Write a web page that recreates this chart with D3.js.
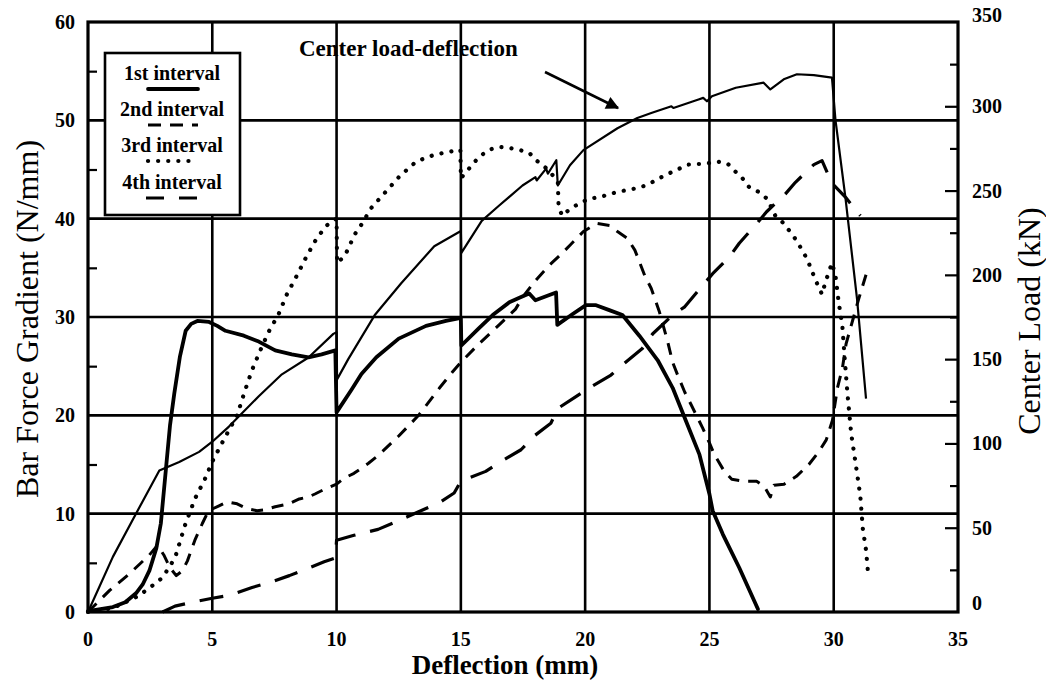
<!DOCTYPE html>
<html><head><meta charset="utf-8">
<script src="https://cdn.jsdelivr.net/npm/d3@7"></script>
<style>body{margin:0;background:#fff;} svg{display:block;}</style>
</head><body>
<svg id="c" width="1046" height="688"></svg>
<script>
// ---------- DATA ----------
const xTicks = [0, 5, 10, 15, 20, 25, 30, 35];
const yLeftTicks = [0, 10, 20, 30, 40, 50, 60];
const yRightTicks = [0, 50, 100, 150, 200, 250, 300, 350];
const legendLabels = ["1st interval", "2nd interval", "3rd interval", "4th interval"];

// Center load (kN, right axis) vs deflection (mm)
const centerLoad = [[0,0],[1.0,32.7],[1.93,58.3],[2.87,84],[3.67,89],[4.47,95],[5.0,101],[5.67,110],[6.87,128],[7.8,141],[8.87,151],[9.87,165],[10.0,166],[10.02,138],[10.47,150],[11.53,176],[12.6,195],[13.93,217],[15.0,226],[15.02,213],[15.84,232],[16.53,241],[17.48,253],[18.0,258],[18.05,256],[18.43,263],[18.5,260],[18.84,268],[18.9,253],[19.39,265],[19.93,274],[21.3,287],[22.1,293],[22.66,296],[23.47,300],[23.55,299],[24.56,304],[24.75,305],[24.9,303],[25.1,306],[26.06,311],[27.18,314],[27.45,310],[27.99,316],[28.52,319],[29.2,318.5],[29.93,317],[30.07,292],[30.47,246],[30.94,185.5],[31.3,126.6]];

// Bar force gradient (N/mm, left axis)
const interval1 = [[0,0.1],[0.5,0.3],[1.0,0.5],[1.5,1.0],[1.93,1.9],[2.2,2.8],[2.47,4.2],[2.75,6.5],[2.93,9.0],[3.13,14.4],[3.3,19],[3.47,22.2],[3.7,26],[3.93,28.6],[4.15,29.3],[4.4,29.6],[4.87,29.5],[5.2,29.1],[5.53,28.6],[6.27,28.1],[6.87,27.5],[7.53,26.6],[8.2,26.2],[8.87,25.9],[9.4,26.2],[9.95,26.6],[10.0,20.3],[10.6,22.6],[11.0,24.2],[11.6,25.9],[12.5,27.8],[13.6,29.1],[14.4,29.6],[15.0,29.9],[15.02,27.1],[15.7,28.8],[16.28,30.2],[16.95,31.5],[17.4,32.0],[17.75,32.4],[18.0,31.7],[18.83,32.5],[18.88,29.2],[19.5,30.3],[20.03,31.2],[20.44,31.2],[20.97,30.7],[21.5,30.2],[22.18,28.1],[22.92,25.6],[23.52,22.8],[24.06,19.4],[24.6,16.0],[25.0,12.0],[25.13,10.3],[25.54,7.9],[26.2,4.5],[26.95,0.3]];

const interval2 = [[0,0],[0.87,2.2],[1.67,3.9],[2.47,5.8],[2.8,6.8],[3.05,5.8],[3.3,4.5],[3.55,3.7],[3.8,4.2],[4.0,5.2],[4.3,7.3],[4.6,9.0],[4.85,10.3],[5.27,10.8],[5.6,11.2],[6.0,11.0],[6.4,10.5],[6.8,10.3],[7.13,10.4],[7.53,10.7],[8.07,11.0],[8.5,11.5],[8.87,11.7],[9.13,12.0],[9.53,12.5],[10.0,13.0],[10.3,13.6],[10.7,14.1],[11.27,15.1],[11.67,15.9],[12.5,17.9],[13.3,20.0],[14.13,22.75],[14.66,24.4],[15.0,25.4],[15.74,27.3],[16.54,29.2],[17.2,30.8],[17.48,32.0],[18.0,33.7],[18.57,35.3],[19.0,36.3],[19.39,37.3],[19.93,38.7],[20.2,39.1],[20.5,39.5],[21.0,39.3],[21.3,38.7],[21.7,38.0],[22.0,36.8],[22.4,34.2],[22.66,32.9],[22.99,30.5],[23.32,27.5],[23.52,25.4],[23.72,24.1],[24.0,22.4],[24.26,21.1],[24.73,18.7],[25.0,17.2],[25.2,16.0],[25.6,14.3],[25.9,13.5],[26.4,13.3],[26.9,13.3],[27.2,12.8],[27.45,11.7],[27.6,12.9],[28.0,13.0],[28.5,13.8],[29.0,15.0],[29.4,16.3],[29.7,17.5],[29.95,19.5],[30.15,22.8],[30.35,24.8],[30.5,27.3],[30.8,30],[31.0,31.8],[31.3,34.3]];

const interval3 = [[0,0],[1.0,0.4],[2.0,1.6],[2.5,2.5],[3.0,3.5],[3.5,5.5],[3.9,8.8],[4.3,11.5],[4.7,13.5],[5.0,15.3],[5.5,17.7],[6.0,20.0],[6.3,22.4],[6.6,24.6],[6.93,26.6],[7.27,28.5],[7.67,30.3],[8.0,32.3],[8.4,34.2],[8.8,36.2],[9.2,38.0],[9.6,39.3],[10.0,40.0],[10.02,35.5],[10.33,36.2],[10.73,38.4],[11.0,39.4],[11.4,41.1],[12.0,42.8],[12.53,44.3],[13.2,45.8],[13.93,46.5],[14.73,46.9],[14.98,47.0],[15.0,44.1],[15.23,44.8],[15.7,46.2],[16.12,47.0],[16.53,47.3],[16.93,47.2],[17.34,47.0],[17.75,46.7],[18.0,46.0],[18.5,45.0],[18.9,43.8],[18.93,41.3],[19.07,40.3],[19.4,41.0],[19.73,41.5],[20.13,42.0],[20.6,42.2],[21.27,42.7],[22.07,43.1],[22.47,43.4],[23.2,44.4],[23.8,45.1],[24.13,45.5],[24.87,45.6],[25.33,45.8],[25.73,45.6],[26.0,44.9],[26.33,44.1],[26.6,43.2],[27.0,42.7],[27.33,42.0],[27.65,40.3],[28.0,39.5],[28.5,37.8],[28.93,35.9],[29.26,33.8],[29.53,32.3],[29.66,33.5],[29.93,35.5],[30.07,34.2],[30.2,31.5],[30.35,29.0],[30.45,25.5],[30.55,22.3],[30.7,18.2],[30.9,14.8],[31.07,11.8],[31.17,8.5],[31.3,6.3],[31.37,4.3]];

const interval4 = [[3.0,0],[3.5,0.6],[4.2,1.0],[5.0,1.4],[5.7,1.7],[6.6,2.5],[7.3,3.0],[8.1,3.7],[8.8,4.4],[9.5,5.1],[9.95,5.5],[10.0,7.3],[10.7,7.8],[11.67,8.4],[12.5,9.3],[13.3,10.2],[14.13,11.1],[14.73,12.1],[15.0,13.3],[16.0,14.3],[16.54,15.2],[17.42,16.5],[17.95,17.9],[18.62,19.2],[18.9,20.7],[19.63,21.9],[20.17,22.8],[21.04,24.1],[21.58,25.3],[22.3,26.8],[22.72,28.3],[23.52,30.2],[23.99,31.0],[24.66,33.0],[25.13,34.4],[25.8,36.1],[26.2,37.5],[26.87,39.4],[27.3,40.7],[28.05,42.5],[28.46,43.7],[29.2,45.5],[29.53,45.9],[29.93,43.6],[30.47,42.2],[31.07,40.3]];

// ---------- CHART ----------
const svg = d3.select("#c");
const L = 88, R = 958, T = 22, B = 612;
const x = d3.scaleLinear().domain([0, 35]).range([L, R]);
const yL = d3.scaleLinear().domain([0, 60]).range([B, T]);
const yR = d3.scaleLinear().domain([0, 350]).range([B, T]);
const serif = "'Liberation Serif','Times New Roman',serif";

svg.append("rect").attr("width",1046).attr("height",688).attr("fill","#fff");

// grid
const grid = svg.append("g").attr("stroke","#000").attr("stroke-width",2.6);
grid.selectAll("line.v").data(xTicks.slice(1,-1)).enter().append("line")
  .attr("x1",d=>x(d)).attr("x2",d=>x(d)).attr("y1",T).attr("y2",B);
grid.selectAll("line.h").data(yLeftTicks.slice(1,-1)).enter().append("line")
  .attr("x1",L).attr("x2",R).attr("y1",d=>yL(d)).attr("y2",d=>yL(d));

// axes
const axL = d3.axisLeft(yL).tickValues(d3.range(5,60,10)).tickSize(-9).tickFormat("");
const gL = svg.append("g").attr("transform",`translate(${L},0)`).call(axL);
const axR = d3.axisRight(yR).tickValues(d3.range(25,350,25)).tickSize(-12).tickFormat("");
const gR = svg.append("g").attr("transform",`translate(${R},0)`).call(axR);
gR.selectAll(".tick line").attr("x2", d => (d % 50 === 0) ? -13 : -8);
[gL,gR].forEach(g=>{g.select(".domain").remove(); g.selectAll(".tick line").attr("stroke","#000").attr("stroke-width",2.2);});

// frame
svg.append("rect").attr("x",L).attr("y",T).attr("width",R-L).attr("height",B-T)
  .attr("fill","none").attr("stroke","#000").attr("stroke-width",3.2);

// tick labels
const tl = svg.append("g").attr("font-family",serif).attr("font-weight","bold").attr("font-size",20).attr("fill","#000");
tl.selectAll("text.l").data(yLeftTicks).enter().append("text")
  .attr("x",L-13).attr("y",d=>yL(d)+7).attr("text-anchor","end").text(d=>d);
tl.selectAll("text.b").data(xTicks).enter().append("text")
  .attr("x",d=>x(d)).attr("y",B+34).attr("text-anchor","middle").text(d=>d);
tl.selectAll("text.r").data(yRightTicks).enter().append("text")
  .attr("x",R+14).attr("y",d=>yR(d)+(d===350?0:d===0?-2:7)).attr("text-anchor","start").text(d=>d);

// axis titles
svg.append("text").attr("transform",`translate(38,${(T+B)/2+2}) rotate(-90)`)
  .attr("text-anchor","middle").attr("font-family",serif).attr("font-size",32).text("Bar Force Gradient (N/mm)");
svg.append("text").attr("transform",`translate(1040,${(T+B)/2+4}) rotate(-90)`)
  .attr("text-anchor","middle").attr("font-family",serif).attr("font-size",32).text("Center Load (kN)");
svg.append("text").attr("x",505).attr("y",674)
  .attr("text-anchor","middle").attr("font-family",serif).attr("font-weight","bold").attr("font-size",27).text("Deflection (mm)");

// lines
const lineL = d3.line().x(d=>x(d[0])).y(d=>yL(d[1]));
const lineR = d3.line().x(d=>x(d[0])).y(d=>yR(d[1]));
const styles = [
  {data: interval2, w: 3.0, dash: "12 9", cap: "butt"},
  {data: interval3, w: 4.2, dash: "0.1 10", cap: "round"},
  {data: interval4, w: 3.2, dash: "24 15", cap: "butt"},
  {data: interval1, w: 3.8, dash: null, cap: "round"}
];
styles.forEach(s=>{
  svg.append("path").datum(s.data).attr("d",lineL).attr("fill","none").attr("stroke","#000")
    .attr("stroke-width",s.w).attr("stroke-dasharray",s.dash).attr("stroke-linecap",s.cap).attr("stroke-linejoin","round");
});
svg.append("path").datum(centerLoad).attr("d",lineR).attr("fill","none").attr("stroke","#000")
  .attr("stroke-width",2.2).attr("stroke-linejoin","round");

// annotation
svg.append("defs").append("marker").attr("id","ah").attr("viewBox","0 0 10 10").attr("refX",9).attr("refY",5)
  .attr("markerWidth",6).attr("markerHeight",5).attr("orient","auto").attr("markerUnits","strokeWidth")
  .append("path").attr("d","M0,0 L10,5 L0,10 z").attr("fill","#000");
svg.append("text").attr("x",299).attr("y",56).attr("font-family",serif).attr("font-weight","bold")
  .attr("font-size",23).text("Center load-deflection");
svg.append("line").attr("x1",545).attr("y1",72).attr("x2",618).attr("y2",108)
  .attr("stroke","#000").attr("stroke-width",2.6).attr("marker-end","url(#ah)");

// legend
const lg = svg.append("g");
lg.append("rect").attr("x",105).attr("y",53).attr("width",135).attr("height",162)
  .attr("fill","#fff").attr("stroke","#000").attr("stroke-width",2.6);
const legY = [80, 116, 152, 189];
const legStyles = [styles[3], styles[0], styles[1], styles[2]];
legendLabels.forEach((lab,i)=>{
  lg.append("text").attr("x",172).attr("y",legY[i]).attr("text-anchor","middle")
    .attr("font-family",serif).attr("font-weight","bold").attr("font-size",20).text(lab);
  const s = legStyles[i];
  lg.append("line").attr("x1",i===3?146:148).attr("x2",i===3?201:198).attr("y1",legY[i]+9).attr("y2",legY[i]+9)
    .attr("stroke","#000").attr("stroke-width",s.w).attr("stroke-dasharray",i===1?"13 9":i===3?"18 15":s.dash)
    .attr("stroke-linecap",s.cap);
});
</script>
</body></html>
